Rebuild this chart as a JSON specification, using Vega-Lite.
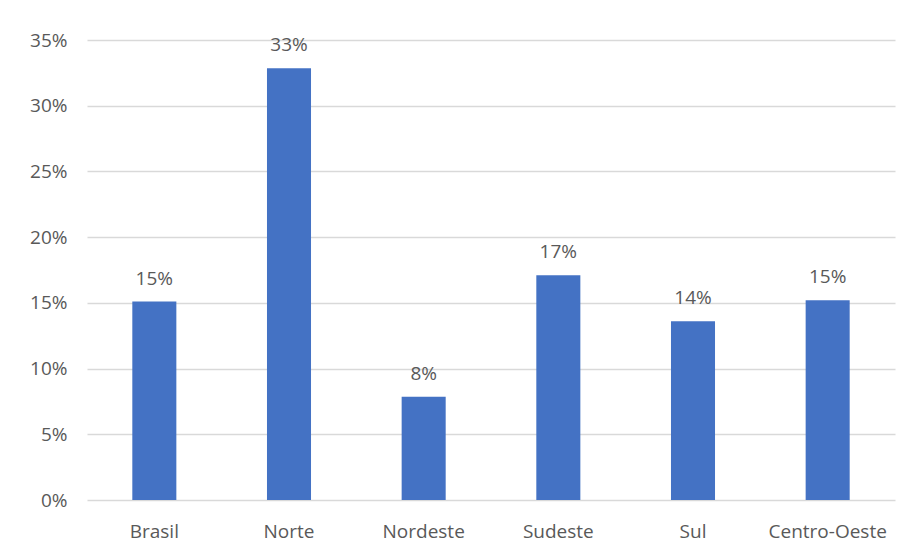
{
  "$schema": "https://vega.github.io/schema/vega-lite/v6.json",
  "width": 808,
  "height": 460,
  "autosize": "none",
  "padding": {"left": 87, "top": 40, "right": 14, "bottom": 52},
  "background": "white",
  "config": {
    "view": {"stroke": null},
    "font": "Open Sans",
    "axis": {"labelFont": "Open Sans", "labelColor": "#595959", "labelFontSize": 19}
  },
  "data": {
    "values": [
      {"regiao": "Brasil", "valor": 0.151},
      {"regiao": "Norte", "valor": 0.3285},
      {"regiao": "Nordeste", "valor": 0.0785},
      {"regiao": "Sudeste", "valor": 0.171},
      {"regiao": "Sul", "valor": 0.136},
      {"regiao": "Centro-Oeste", "valor": 0.152}
    ]
  },
  "encoding": {
    "x": {
      "field": "regiao",
      "type": "nominal",
      "sort": null,
      "scale": {"paddingInner": 0.673, "paddingOuter": 0.3365},
      "axis": {"title": null, "labelAngle": 0, "ticks": false, "tickSize": 0, "domain": false, "labelPadding": 22, "grid": false}
    },
    "y": {
      "field": "valor",
      "type": "quantitative",
      "scale": {"domain": [0, 0.35], "nice": false},
      "axis": {
        "title": null,
        "values": [0, 0.05, 0.1, 0.15, 0.2, 0.25, 0.3, 0.35],
        "format": ".0%",
        "ticks": false,
        "tickSize": 0,
        "domain": false,
        "labelPadding": 20,
        "gridColor": "#d9d9d9",
        "gridWidth": 1.3
      }
    }
  },
  "layer": [
    {"mark": {"type": "bar", "color": "#4472C4"}},
    {
      "mark": {"type": "text", "baseline": "alphabetic", "dy": -17, "fontSize": 19, "color": "#595959", "font": "Open Sans"},
      "encoding": {"text": {"field": "valor", "type": "quantitative", "format": ".0%"}}
    }
  ]
}
